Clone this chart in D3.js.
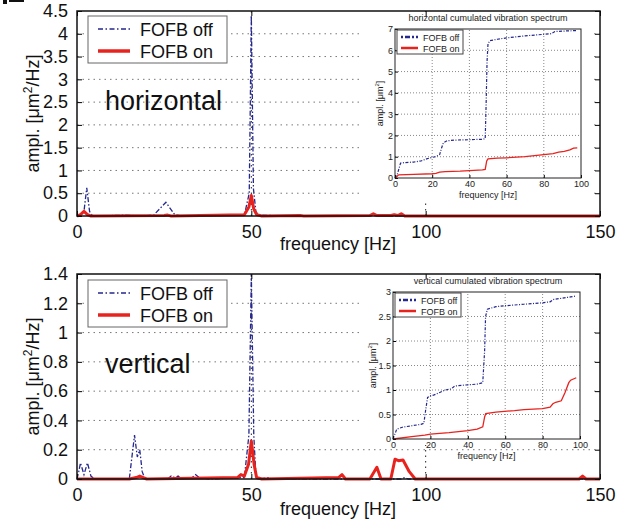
<!DOCTYPE html>
<html>
<head>
  <meta charset="utf-8">
  <title>FOFB vibration spectra</title>
  <script src="https://d3js.org/d3.v7.min.js"></script>
  <style>
    body { margin: 0; background: #fff; }
    svg { font-family: "Liberation Sans", Arial, sans-serif; }
    .grid line { stroke: #777; stroke-width: 1; stroke-dasharray: 1.5,4; }
  </style>
</head>
<body>
  <svg id="chart" width="625" height="519"></svg>
  <script>
    // spectra (frequency Hz, amplitude um^2/Hz)
    var hOff = [[0,0],[1,0.02],[2,0.1],[2.8,0.62],[3.6,0.1],[4.5,0],[10,0.01],[14,0.02],[16,0.01],[18,0],
      [22,0.02],[25.5,0.3],[28,0.03],[30,0],[40,0.01],[48,0.02],[49.4,0.5],[50,4.4],[50.6,0.6],[51.3,0.1],
      [52,0.02],[60,0],[85,0.01],[86,0],[150,0]];
    var hOn = [[0,0],[1,0.03],[2,0.1],[3,0.03],[4,0],[25,0.01],[26,0.02],[27,0],[48,0.03],[49.3,0.2],
      [50,0.45],[50.7,0.15],[51.5,0.03],[53,0],[64,0.01],[65,0],[84,0.01],[85,0.05],[86,0.01],[90,0.01],
      [91,0.03],[92,0.01],[93,0.05],[94,0],[150,0]];
    var vOff = [[0,0],[0.5,0.05],[1,0.11],[2,0.03],[3,0.11],[4,0.02],[5,0],[15,0],[16.5,0.3],[17.3,0.15],
      [18,0.2],[18.7,0.05],[19.5,0],[26,0],[27,0.02],[28,0.01],[29,0.02],[30,0],[33,0.01],[34,0.03],
      [35,0.01],[38,0],[48,0.01],[49.3,0.3],[50,1.42],[50.7,0.3],[51.3,0.03],[52,0],[55,0.01],[56,0],
      [93,0],[94,0.01],[95,0],[150,0]];
    var vOn = [[0,0],[15,0],[17,0.01],[18,0.02],[19,0.01],[20,0],[46,0.01],[47,0.03],[48,0.02],[49.2,0.1],
      [50,0.26],[50.8,0.1],[51.5,0.01],[53,0],[75,0.01],[76,0.03],[77,0],[84,0],[86,0.08],[87.2,0],
      [90,0],[91.2,0.135],[92.2,0.125],[93.5,0.13],[95.3,0.05],[97,0],[144,0],[145,0.02],[146,0],[150,0]];

    // cumulated spectra (frequency Hz, um^2)
    var hCumOff = [[0,0],[1,0.1],[2,0.4],[3,0.7],[5,0.72],[10,0.75],[14,0.8],[17,0.9],[20,0.97],[22,1.0],
      [24,1.1],[25,1.4],[26,1.65],[28,1.75],[32,1.78],[40,1.8],[47,1.82],[48.5,1.85],[49,3.5],[49.5,5.5],
      [50,6.3],[51,6.45],[55,6.52],[60,6.58],[70,6.68],[80,6.75],[84,6.78],[86,6.88],[90,6.9],[98,6.93]];
    var hCumOn = [[0,0],[2,0.15],[10,0.17],[20,0.2],[22,0.22],[24,0.28],[27,0.3],[35,0.32],[40,0.35],
      [47,0.38],[48.5,0.4],[49.3,0.8],[50,0.9],[55,0.93],[60,0.95],[70,1.0],[75,1.05],[80,1.1],[85,1.15],
      [88,1.22],[91,1.25],[94,1.32],[96,1.4],[98,1.42]];
    var vCumOff = [[0,0],[1,0.1],[2,0.2],[5,0.24],[10,0.27],[15,0.3],[16.5,0.32],[17.5,0.6],[18.5,0.85],
      [20,0.88],[22,0.9],[25,0.95],[28,1.0],[31,1.02],[33,1.08],[38,1.1],[45,1.12],[48,1.15],[49,1.8],
      [49.5,2.5],[50.5,2.65],[55,2.7],[60,2.72],[70,2.75],[80,2.78],[84,2.8],[86,2.85],[90,2.87],
      [95,2.9],[98,2.92]];
    var vCumOn = [[0,0],[10,0.05],[17,0.08],[20,0.1],[30,0.13],[40,0.17],[45,0.2],[48,0.25],[49,0.45],
      [49.6,0.52],[55,0.55],[65,0.58],[70,0.6],[80,0.62],[84,0.65],[85.5,0.72],[87,0.75],[90,0.78],
      [92,0.95],[94,1.15],[95,1.2],[98,1.25]];

    var xTicks = [0, 50, 100, 150];
    var hTicks = [0, 0.5, 1, 1.5, 2, 2.5, 3, 3.5, 4, 4.5];
    var vTicks = [0, 0.2, 0.4, 0.6, 0.8, 1, 1.2, 1.4];
    var insetXTicks = [0, 20, 40, 60, 80, 100];
    var hInsetTicks = [0, 1, 2, 3, 4, 5, 6, 7];
    var vInsetTicks = [0, 0.5, 1, 1.5, 2, 2.5, 3];
    var seriesNames = ['FOFB off', 'FOFB on'];

    var blue = '#24278e', red = '#e8231e';
    var svg = d3.select('#chart');

    // little clipped mark in the top-left corner of the scan
    svg.append('rect').attr('x', 3).attr('y', 0).attr('width', 4).attr('height', 4).attr('fill', '#111');
    svg.append('rect').attr('x', 9).attr('y', 0).attr('width', 15).attr('height', 2).attr('fill', '#111');

    function mainPanel(o) {
      var x = d3.scaleLinear().domain([0, 150]).range([77, 600]);
      var y = d3.scaleLinear().domain([0, o.yMax]).range([o.bottom, o.top]);
      var g = svg.append('g');

      // grid
      var grid = g.append('g').attr('class', 'grid');
      grid.selectAll('.hg').data(o.ticks.slice(1, -1)).enter().append('line')
          .attr('x1', x(0)).attr('x2', x(150))
          .attr('y1', function(d) { return y(d); }).attr('y2', function(d) { return y(d); });
      grid.selectAll('.vg').data([50, 100]).enter().append('line')
          .attr('x1', function(d) { return x(d); }).attr('x2', function(d) { return x(d); })
          .attr('y1', y(0)).attr('y2', y(o.yMax))
          .style('stroke', '#222');

      // inset white background hides the grid behind it
      g.append('rect').attr('x', 362).attr('y', o.insetBg[0]).attr('width', 232)
          .attr('height', o.insetBg[1] - o.insetBg[0]).attr('fill', '#fff');

      var line = d3.line().x(function(d) { return x(d[0]); }).y(function(d) { return y(Math.min(d[1], o.yMax)); });
      g.append('path').datum(o.off).attr('d', line).attr('fill', 'none')
          .attr('stroke', blue).attr('stroke-width', 1.3).attr('stroke-dasharray', '5,2,1.5,2');
      g.append('path').datum(o.on).attr('d', line).attr('fill', 'none')
          .attr('stroke', red).attr('stroke-width', 3).attr('stroke-linejoin', 'round');

      // axes with inward ticks
      var ax = g.append('g').attr('font-size', 18).attr('fill', '#111');
      g.append('g').attr('transform', 'translate(0,' + y(0) + ')')
          .call(d3.axisBottom(x).tickValues(xTicks).tickSizeInner(-5).tickSizeOuter(0).tickPadding(9))
          .call(function(s) { s.select('.domain').remove(); s.selectAll('text').attr('font-size', 18).attr('fill', '#111').attr('font-family', null); });
      g.append('g').attr('transform', 'translate(0,' + y(o.yMax) + ')')
          .call(d3.axisTop(x).tickValues(xTicks).tickSizeInner(-5).tickSizeOuter(0).tickFormat(''))
          .call(function(s) { s.select('.domain').remove(); });
      g.append('g').attr('transform', 'translate(' + x(0) + ',0)')
          .call(d3.axisLeft(y).tickValues(o.ticks).tickSizeInner(-5).tickSizeOuter(0).tickPadding(9)
                .tickFormat(d3.format('')))
          .call(function(s) { s.select('.domain').remove(); s.selectAll('text').attr('font-size', 18).attr('fill', '#111').attr('font-family', null); });
      g.append('g').attr('transform', 'translate(' + x(150) + ',0)')
          .call(d3.axisRight(y).tickValues(o.ticks).tickSizeInner(-5).tickSizeOuter(0).tickFormat(''))
          .call(function(s) { s.select('.domain').remove(); });

      g.append('rect').attr('x', x(0)).attr('y', y(o.yMax)).attr('width', x(150) - x(0))
          .attr('height', y(0) - y(o.yMax)).attr('fill', 'none').attr('stroke', '#111').attr('stroke-width', 1.5);

      ax.append('text').attr('x', 338).attr('y', o.xLabelY).attr('text-anchor', 'middle').text('frequency [Hz]');
      var yl = ax.append('text').attr('transform', 'translate(39,' + ((y(0) + y(o.yMax)) / 2) + ') rotate(-90)')
          .attr('text-anchor', 'middle');
      yl.append('tspan').text('ampl. [\u03bcm');
      yl.append('tspan').attr('font-size', 12).attr('dy', -7).text('2');
      yl.append('tspan').attr('dy', 7).text('/Hz]');

      g.append('text').attr('x', 105).attr('y', o.nameY).attr('font-size', 27).attr('fill', '#111').text(o.name);

      // legend
      var lg = g.append('g').attr('transform', 'translate(88,' + o.legendY + ')');
      lg.append('rect').attr('width', 139).attr('height', 47).attr('fill', '#fff').attr('stroke', '#666');
      lg.append('line').attr('x1', 10).attr('x2', 42).attr('y1', 13).attr('y2', 13)
          .attr('stroke', blue).attr('stroke-width', 1.5).attr('stroke-dasharray', '5,2.5,1.5,2.5');
      lg.append('line').attr('x1', 10).attr('x2', 42).attr('y1', 35).attr('y2', 35)
          .attr('stroke', red).attr('stroke-width', 3.5);
      lg.selectAll('text').data(seriesNames).enter().append('text')
          .attr('x', 52).attr('y', function(d, i) { return 20 + i * 21.5; })
          .attr('font-size', 18).attr('fill', '#111').text(function(d) { return d; });
    }

    function inset(o) {
      var x = d3.scaleLinear().domain([0, 100]).range([o.left, o.right]);
      var y = d3.scaleLinear().domain([0, o.yMax]).range([o.bottom, o.top]);
      var g = svg.append('g').attr('font-size', 9).attr('fill', '#222');

      var grid = g.append('g').attr('class', 'grid');
      grid.selectAll('.hg').data(o.ticks.slice(1, -1)).enter().append('line')
          .attr('x1', x(0)).attr('x2', x(100))
          .attr('y1', function(d) { return y(d); }).attr('y2', function(d) { return y(d); });
      grid.selectAll('.vg').data(insetXTicks.slice(1, -1)).enter().append('line')
          .attr('x1', function(d) { return x(d); }).attr('x2', function(d) { return x(d); })
          .attr('y1', y(0)).attr('y2', y(o.yMax));
      grid.selectAll('line').style('stroke-dasharray', '1,2').style('stroke', '#888');

      var line = d3.line().x(function(d) { return x(d[0]); }).y(function(d) { return y(d[1]); });
      g.append('path').datum(o.off).attr('d', line).attr('fill', 'none')
          .attr('stroke', blue).attr('stroke-width', 1.2).attr('stroke-dasharray', '3,1.5,1,1.5');
      g.append('path').datum(o.on).attr('d', line).attr('fill', 'none')
          .attr('stroke', red).attr('stroke-width', 1.3);

      g.append('g').attr('transform', 'translate(0,' + y(0) + ')')
          .call(d3.axisBottom(x).tickValues(insetXTicks).tickSizeInner(-3).tickSizeOuter(0).tickPadding(3))
          .call(function(s) { s.select('.domain').remove(); s.selectAll('text').attr('font-size', 9).attr('fill', '#222').attr('font-family', null); });
      g.append('g').attr('transform', 'translate(' + x(0) + ',0)')
          .call(d3.axisLeft(y).tickValues(o.ticks).tickSizeInner(-3).tickSizeOuter(0).tickPadding(2)
                .tickFormat(d3.format('')))
          .call(function(s) { s.select('.domain').remove(); s.selectAll('text').attr('font-size', 9).attr('fill', '#222').attr('font-family', null); });
      g.append('rect').attr('x', x(0)).attr('y', y(o.yMax)).attr('width', x(100) - x(0))
          .attr('height', y(0) - y(o.yMax)).attr('fill', 'none').attr('stroke', '#222').attr('stroke-width', 1);

      g.append('text').attr('x', 488).attr('y', o.top - 8).attr('text-anchor', 'middle').text(o.title);
      g.append('text').attr('x', (o.left + o.right) / 2).attr('y', o.bottom + 20).attr('text-anchor', 'middle')
          .text('frequency [Hz]');
      var yl = g.append('text').attr('transform', 'translate(' + (o.left - o.yLabelOff) + ',' + ((o.top + o.bottom) / 2) + ') rotate(-90)')
          .attr('text-anchor', 'middle');
      yl.append('tspan').text('ampl. [\u03bcm');
      yl.append('tspan').attr('font-size', 6).attr('dy', -4).text('2');
      yl.append('tspan').attr('dy', 4).text(']');

      var lg = g.append('g').attr('transform', 'translate(' + (o.left + 2) + ',' + (o.top + 1) + ')');
      lg.append('rect').attr('width', 66).attr('height', 24).attr('fill', '#fff').attr('stroke', '#444');
      lg.append('line').attr('x1', 4).attr('x2', 21).attr('y1', 7).attr('y2', 7)
          .attr('stroke', blue).attr('stroke-width', 2.5).attr('stroke-dasharray', '2,2,5,2');
      lg.append('line').attr('x1', 4).attr('x2', 21).attr('y1', 18).attr('y2', 18)
          .attr('stroke', red).attr('stroke-width', 2.5);
      lg.selectAll('text').data(seriesNames).enter().append('text')
          .attr('x', 26).attr('y', function(d, i) { return 10.5 + i * 11; })
          .attr('font-size', 9).text(function(d) { return d; });
    }

    mainPanel({ top: 11, bottom: 216, yMax: 4.5, ticks: hTicks, off: hOff, on: hOn, name: 'horizontal',
                nameY: 110, legendY: 16, xLabelY: 250, insetBg: [12, 200] });
    mainPanel({ top: 274, bottom: 479, yMax: 1.4, ticks: vTicks, off: vOff, on: vOn, name: 'vertical',
                nameY: 373, legendY: 280, xLabelY: 515, insetBg: [268, 445] });

    inset({ left: 395, right: 581, top: 29, bottom: 178, yMax: 7, ticks: hInsetTicks, off: hCumOff, on: hCumOn,
            title: 'horizontal cumulated vibration spectrum', yLabelOff: 12 });
    inset({ left: 393, right: 580, top: 292, bottom: 439, yMax: 3, ticks: vInsetTicks, off: vCumOff, on: vCumOn,
            title: 'vertical cumulated vibration spectrum', yLabelOff: 17 });
  </script>
</body>
</html>
